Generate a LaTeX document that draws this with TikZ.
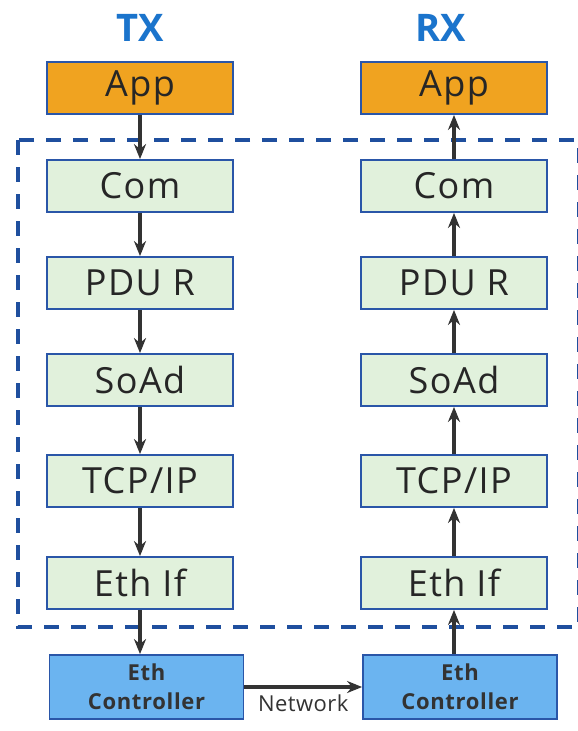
\documentclass[tikz,border=0pt]{standalone}
\usepackage{fontspec}
\setmainfont{Open Sans}
\usetikzlibrary{arrows.meta}
\definecolor{borderblue}{HTML}{2A56A8}
\definecolor{dashblue}{HTML}{1F4F9E}
\definecolor{titleblue}{HTML}{1B74CC}
\definecolor{apporange}{HTML}{F0A320}
\definecolor{layergreen}{HTML}{E1F1DC}
\definecolor{ctrlblue}{HTML}{6BB4F0}
\definecolor{arrowgray}{HTML}{333333}
\tikzset{
  layer/.style={draw=borderblue, line width=1.8pt, fill=layergreen, minimum width=186pt, minimum height=52pt, inner sep=0pt, text=black!85, font=\fontsize{36}{40}\selectfont\addfontfeature{LetterSpace=4}},
  appbox/.style={layer, fill=apporange},
  ctrlbox/.style={draw=borderblue, line width=1.8pt, fill=ctrlblue, minimum width=194pt, minimum height=64pt, inner sep=0pt, align=center, text=black!80, font=\fontsize{22}{29}\selectfont\bfseries\addfontfeature{LetterSpace=3}},
  title/.style={text=titleblue, font=\fontsize{38}{44}\selectfont\bfseries},
  flow/.style={draw=arrowgray, line width=3.2pt, -{Stealth[length=15pt, width=12pt]}},
  region/.style={draw=dashblue, line width=3.5pt, dash pattern=on 15pt off 12pt}
}
\begin{document}
\begin{tikzpicture}[x=1pt, y=-1pt]
\useasboundingbox (0,0) rectangle (578,731);
\fill[white] (0,0) rectangle (578,731);
\draw[region] (18,140) rectangle (578.5,627);
\node[title] (tx) at (140,28) {TX};
\node[title] (rx) at (441,28) {RX};
% TX column
\node[appbox] (tapp) at (140,88) {App};
\node[layer] (tcom) at (140,186) {Com};
\node[layer] (tpdu) at (140,283) {PDU R};
\node[layer] (tsoad) at (140,380) {SoAd};
\node[layer] (ttcp) at (140,481) {TCP/IP};
\node[layer] (teth) at (140,583) {Eth If};
\node[ctrlbox] (tctrl) at (146.5,687) {Eth\\Controller};
% RX column
\node[appbox] (rapp) at (454,88) {App};
\node[layer] (rcom) at (454,186) {Com};
\node[layer] (rpdu) at (454,283) {PDU R};
\node[layer] (rsoad) at (454,380) {SoAd};
\node[layer] (rtcp) at (454,481) {TCP/IP};
\node[layer] (reth) at (454,583) {Eth If};
\node[ctrlbox] (rctrl) at (460,687) {Eth\\Controller};
% TX arrows
\draw[flow] (tapp.south) -- (tcom.north);
\draw[flow] (tcom.south) -- (tpdu.north);
\draw[flow] (tpdu.south) -- (tsoad.north);
\draw[flow] (tsoad.south) -- (ttcp.north);
\draw[flow] (ttcp.south) -- (teth.north);
\draw[flow] (teth.south) -- (teth.south |- tctrl.north);
% RX arrows
\draw[flow] (reth.south |- rctrl.north) -- (reth.south);
\draw[flow] (reth.north) -- (rtcp.south);
\draw[flow] (rtcp.north) -- (rsoad.south);
\draw[flow] (rsoad.north) -- (rpdu.south);
\draw[flow] (rpdu.north) -- (rcom.south);
\draw[flow] (rcom.north) -- (rapp.south);
% network
\draw[flow] (tctrl.east) -- (rctrl.west) node[midway, below=3pt, text=black!80, font=\fontsize{22}{26}\selectfont\addfontfeature{LetterSpace=2}] (net) {Network};
\end{tikzpicture}
\end{document}
